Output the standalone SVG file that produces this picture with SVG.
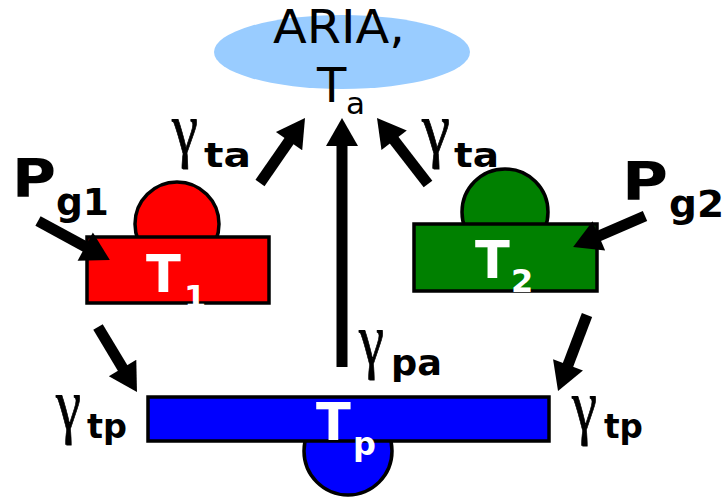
<svg xmlns="http://www.w3.org/2000/svg" width="727" height="498" viewBox="0 0 727 498">
<style>
.lbl{font-family:"DejaVu Sans",Verdana,sans-serif;fill:#000}
.b{font-weight:bold}
.w{fill:#fff}
.g{font-family:"Liberation Serif","Times New Roman",serif;font-weight:normal;font-size:74px;stroke:#000;stroke-width:0.8}
.s{font-family:"DejaVu Sans",Verdana,sans-serif;font-weight:bold}
.box{stroke:#000;stroke-width:3.5}
.arr{stroke:#000;stroke-width:11;fill:none;marker-end:url(#ah)}
</style>
<defs>
<marker id="ah" markerUnits="userSpaceOnUse" markerWidth="30" markerHeight="32" viewBox="0 0 28 32" refX="2" refY="16" orient="auto">
<path d="M0,0 L28,16 L0,32 z" fill="#000"/>
</marker>
</defs>
<g id="aria">
<ellipse cx="342" cy="52" rx="128" ry="37" fill="#99ccff"/>
<text class="lbl" x="273" y="43" font-size="46" textLength="132" lengthAdjust="spacingAndGlyphs">ARIA,</text>
<text class="lbl" x="317" y="102" font-size="48">T<tspan x="346" y="114" font-size="31">a</tspan></text>
</g>
<g id="t1">
<circle class="box" cx="177" cy="224" r="42" fill="#ff0000"/>
<rect class="box" x="87" y="237" width="182" height="66" fill="#ff0000"/>
<text class="lbl b w" x="146" y="292" font-size="51">T<tspan x="184" y="308" font-size="32">1</tspan></text>
</g>
<g id="t2">
<circle class="box" cx="505" cy="212" r="43" fill="#008000"/>
<rect class="box" x="414" y="224" width="183" height="67" fill="#008000"/>
<text class="lbl b w" x="475" y="278" font-size="51">T<tspan x="511" y="292" font-size="32">2</tspan></text>
</g>
<g id="tp">
<circle class="box" cx="348" cy="451" r="44" fill="#0000ff"/>
<rect class="box" x="148" y="397" width="401" height="44" fill="#0000ff"/>
<text class="lbl b w" x="316" y="440" font-size="51">T<tspan x="353" y="455" font-size="32">p</tspan></text>
</g>
<g id="labels">
<text class="lbl b" x="12" y="197" font-size="54"><tspan textLength="44" lengthAdjust="spacingAndGlyphs">P</tspan><tspan x="56" y="215" font-size="38" textLength="53" lengthAdjust="spacingAndGlyphs">g1</tspan></text>
<text class="lbl b" x="622" y="200" font-size="54"><tspan textLength="46" lengthAdjust="spacingAndGlyphs">P</tspan><tspan x="669" y="217" font-size="38" textLength="55" lengthAdjust="spacingAndGlyphs">g2</tspan></text>
<text class="lbl"><tspan class="g" x="172" y="153" textLength="26" lengthAdjust="spacingAndGlyphs">γ</tspan><tspan class="s" x="204" y="167" font-size="34" textLength="47" lengthAdjust="spacingAndGlyphs">ta</tspan></text>
<text class="lbl"><tspan class="g" x="422" y="153" textLength="28" lengthAdjust="spacingAndGlyphs">γ</tspan><tspan class="s" x="454" y="167" font-size="34" textLength="45" lengthAdjust="spacingAndGlyphs">ta</tspan></text>
<text class="lbl"><tspan class="g" x="359" y="364" textLength="25" lengthAdjust="spacingAndGlyphs">γ</tspan><tspan class="s" x="391" y="375" font-size="35" textLength="51" lengthAdjust="spacingAndGlyphs">pa</tspan></text>
<text class="lbl"><tspan class="g" x="56" y="429" textLength="25" lengthAdjust="spacingAndGlyphs">γ</tspan><tspan class="s" x="87" y="438" font-size="33" textLength="40" lengthAdjust="spacingAndGlyphs">tp</tspan></text>
<text class="lbl"><tspan class="g" x="572" y="430" textLength="25" lengthAdjust="spacingAndGlyphs">γ</tspan><tspan class="s" x="604" y="438" font-size="33" textLength="39" lengthAdjust="spacingAndGlyphs">tp</tspan></text>
</g>
<g id="connectors">
<line class="arr" x1="38" y1="221" x2="87" y2="247.6"/>
<line class="arr" x1="260" y1="183" x2="290.2" y2="139.4"/>
<line class="arr" x1="342" y1="367" x2="342" y2="144"/>
<line class="arr" x1="428" y1="184" x2="392.9" y2="138.6"/>
<line class="arr" x1="645" y1="216" x2="597" y2="236.7"/>
<line class="arr" x1="98" y1="327" x2="123.6" y2="369.7"/>
<line class="arr" x1="587" y1="315" x2="567.3" y2="366.7"/>
</g>
</svg>
